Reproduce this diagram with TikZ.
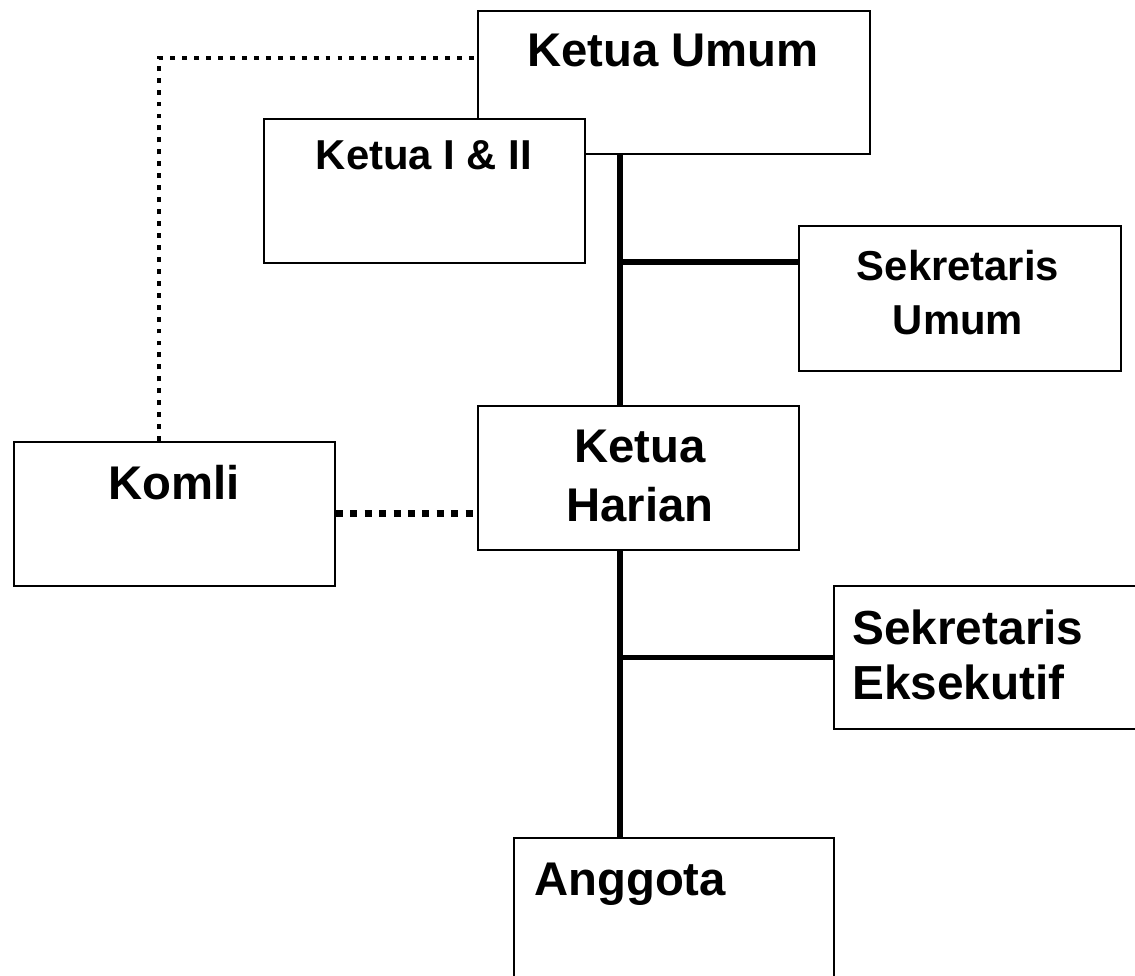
\documentclass[tikz,border=0pt]{standalone}
\usepackage{fontspec}
\setmainfont{Liberation Sans}
\usetikzlibrary{positioning,calc}

\begin{document}
\begin{tikzpicture}[
				x=0.02cm, y=-0.02cm,
				jabatan/.style={rectangle, draw, line width=1.1pt, fill=white, inner sep=0pt, anchor=north west, minimum width=6.42cm, minimum height=2.88cm},
				judul/.style={font=\bfseries\fontsize{26.9}{33.5}\selectfont, inner sep=0pt},
				judulkecil/.style={font=\bfseries\fontsize{23.8}{30.6}\selectfont, inner sep=0pt},
				garis/.style={line width=3.1pt},
				titikhalus/.style={line width=2.8pt, dash pattern=on 2.8pt off 4pt},
				titiktebal/.style={line width=4pt, dash pattern=on 4pt off 4.2pt}
				]
				\useasboundingbox (0,0) rectangle (1135,976);
				\clip (0,0) rectangle (1135,976);
				
				% Kotak jabatan
				\node[jabatan, minimum width=7.84cm, minimum height=2.86cm] (ku) at (477,10) {};
				\node[jabatan] (k12) at (263,118) {};
				\node[jabatan, minimum width=6.44cm, minimum height=2.9cm] (su) at (798,225) {};
				\node[jabatan] (kh) at (477,405) {};
				\node[jabatan] (komli) at (13,441) {};
				\node[jabatan, minimum width=6.8cm, minimum height=2.86cm] (se) at (833,585) {};
				\node[jabatan, minimum width=6.4cm, minimum height=3.4cm] (ang) at (513,837) {};
				
				% Teks
				\node[judul, anchor=base] (ku-t) at (673,67) {Ketua Umum};
				\node[judulkecil, anchor=base] (k12-t) at (424,170) {Ketua I \& II};
				\node[judulkecil, align=center, anchor=north] (su-t) at (958,250) {Sekretaris\\Umum};
				\node[judul, align=center, anchor=north] (kh-t) at (640,430) {Ketua\\Harian};
				\node[judul, anchor=base] (komli-t) at (174,499) {Komli};
				\node[judul, font=\bfseries\fontsize{27.2}{31.2}\selectfont, align=left, anchor=north west] (se-t) at (852,610) {Sekretaris\\Eksekutif};
				\node[judul, anchor=base west] (ang-t) at (534,895) {Anggota};
				
				% Garis komando
				\coordinate (poros) at (620,262);
				\draw[garis] (ku.south -| poros) -- (kh.north -| poros);
				\draw[garis] (poros) -- (poros -| su.west);
				\draw[garis] (kh.south -| poros) -- (ang.north -| poros);
				\draw[garis] (se.west -| poros) -- (se.west);
				
				% Garis koordinasi
				\coordinate (sudut) at (159,58);
				\draw[titikhalus] (komli.north -| sudut) |- (ku.west |- sudut);
				\draw[titiktebal] (komli.east) -- (kh.west |- komli.east);
			\end{tikzpicture}
\end{document}
